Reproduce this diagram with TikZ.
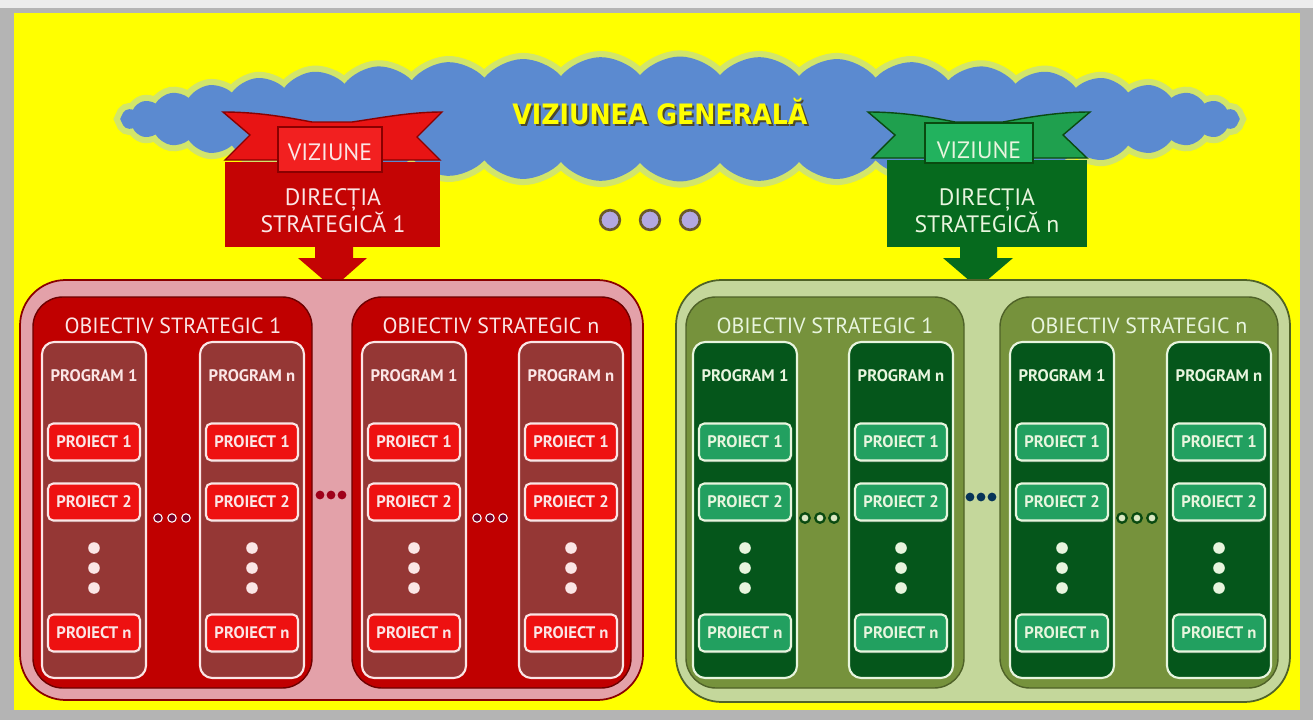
\documentclass[tikz,border=0pt]{standalone}
\usepackage{fontspec}
\setmainfont{PT Sans}
\newfontfamily\condfont{DejaVu Sans Condensed}
\usetikzlibrary{shapes,positioning,shadows}

\definecolor{bgyellow}{HTML}{FFFF00}
\definecolor{framegray}{HTML}{B4B4B4}
\definecolor{cloudblue}{HTML}{5B8AD0}
\definecolor{cloudglow}{HTML}{D2E56A}
\definecolor{redwing}{HTML}{E81414}
\definecolor{redtab}{HTML}{F22020}
\definecolor{redmain}{HTML}{C40404}
\definecolor{redline}{HTML}{8A0000}
\definecolor{redouter}{HTML}{E3A1A9}
\definecolor{redobj}{HTML}{C00000}
\definecolor{redcol}{HTML}{953735}
\definecolor{redproj}{HTML}{EE1111}
\definecolor{redtext}{HTML}{FBE6E6}
\definecolor{greenwing}{HTML}{1FA04E}
\definecolor{greentab}{HTML}{22B25E}
\definecolor{greenmain}{HTML}{066A1E}
\definecolor{greenline}{HTML}{0A4A10}
\definecolor{greenouter}{HTML}{C4D79B}
\definecolor{greenobj}{HTML}{76923C}
\definecolor{oliveline}{HTML}{4F6228}
\definecolor{greencol}{HTML}{05561B}
\definecolor{greenproj}{HTML}{22A060}
\definecolor{greentext}{HTML}{E8F5DE}
\definecolor{dotlilac}{HTML}{B3A9E2}
\definecolor{dotrim}{HTML}{6A5A2A}

\begin{document}
\begin{tikzpicture}[x=0.02cm,y=-0.02cm,
  objtitle/.style={font=\fontsize{12.5}{14}\selectfont, inner sep=0},
  progtitle/.style={font=\bfseries\fontsize{9.5}{11}\selectfont, inner sep=0},
  projbox/.style={rounded corners=3pt, line width=1.2pt, minimum width=1.84cm,
    minimum height=0.74cm, inner sep=0, font=\bfseries\fontsize{9.5}{11}\selectfont,
    drop shadow={opacity=0.35, shadow xshift=0.6pt, shadow yshift=-1pt}},
  bannertext/.style={font=\fontsize{13.5}{15.5}\selectfont, align=center, inner sep=0}]
\useasboundingbox (0,0) rectangle (1313,720);

% frame and background
\fill[framegray] (0,0) rectangle (1313,720);
\fill[gray!15] (0,0) rectangle (1313,8);
\fill[bgyellow] (14,13) rectangle (1300,710);

% cloud
\node[cloud, cloud puffs=44, cloud puff arc=100, aspect=9, inner sep=0,
  minimum width=22.4cm, minimum height=2.5cm, fill=cloudblue,
  preaction={draw=cloudglow, line width=7pt}] (cloud) at (680,119) {};
\node[font=\condfont\bfseries\fontsize{16}{18}\selectfont, text=black!60!olive]
  (vgshadow) at (662,114) {VIZIUNEA GENERALĂ};
\node[font=\condfont\bfseries\fontsize{16}{18}\selectfont, text=bgyellow]
  (vg) at (660,112) {VIZIUNEA GENERALĂ};

% red direction banner
\draw[redline, fill=redwing, line width=0.8pt] (223,112) .. controls (260,112) and (290,118) .. (312,122)
  -- (352,122) .. controls (380,118) and (410,112) .. (442,112) -- (417,137) -- (440,160)
  -- (225,160) -- (250,135) -- cycle;
\fill[redmain] (225,162) rectangle (440,247);
\fill[redmain] (315,246) -- (353,246) -- (353,258) -- (367,258) -- (333,288) -- (298,258) -- (315,258) -- cycle;
\draw[redline, fill=redtab, line width=0.6pt] (278,127) rectangle (382,172);
\node[bannertext, text=redtext] (viz1) at (330,152) {VIZIUNE};
\node[bannertext, text=redtext] (dir1) at (333,211) {DIRECȚIA\\STRATEGICĂ 1};

% green direction banner
\draw[greenline, fill=greenwing, line width=0.8pt] (868,112) .. controls (905,112) and (935,118) .. (955,122)
  -- (1003,122) .. controls (1025,118) and (1055,112) .. (1090,112) -- (1063,135) -- (1087,158)
  -- (872,158) -- (895,135) -- cycle;
\fill[greenmain] (887,160) rectangle (1087,247);
\fill[greenmain] (960,246) -- (997,246) -- (997,258) -- (1013,258) -- (978,288) -- (943,258) -- (960,258) -- cycle;
\draw[greenline, fill=greentab, line width=0.6pt] (925,123) rectangle (1033,163);
\node[bannertext, text=greentext] (vizn) at (979,150) {VIZIUNE};
\node[bannertext, text=greentext] (dirn) at (987,211) {DIRECȚIA\\STRATEGICĂ n};

% dots between directions
\foreach \dx in {610,650,690}
  \draw[dotrim, fill=dotlilac, line width=1.5pt] (\dx,220) circle (5.6pt);

% red container
\draw[redline, fill=redouter, line width=1pt, rounded corners=26pt] (20,280) rectangle (643,700);
\foreach \ox in {33,352}
  \draw[redline!80!black, fill=redobj, line width=0.8pt, rounded corners=17pt] (\ox,297) rectangle (\ox+279,688);
\node[objtitle, text=redtext] (ro1) at (173,326) {OBIECTIV STRATEGIC 1};
\node[objtitle, text=redtext] (ron) at (491,326) {OBIECTIV STRATEGIC n};

% green container
\draw[oliveline, fill=greenouter, line width=1pt, rounded corners=26pt] (676,280) rectangle (1290,702);
\foreach \ox in {686,1000}
  \draw[oliveline, fill=greenobj, line width=0.8pt, rounded corners=17pt] (\ox,297) rectangle (\ox+278,688);
\node[objtitle, text=greentext] (go1) at (825,326) {OBIECTIV STRATEGIC 1};
\node[objtitle, text=greentext] (gon) at (1139,326) {OBIECTIV STRATEGIC n};

% program columns with projects
\foreach \cx/\pn/\side in {94/1/r,252/n/r,414/1/r,571/n/r,745/1/g,901/n/g,1062/1/g,1219/n/g} {
  \if r\side
    \def\colfill{redcol}\def\colline{redtext}\def\pfill{redproj}\def\ptext{redtext}
  \else
    \def\colfill{greencol}\def\colline{greentext}\def\pfill{greenproj}\def\ptext{greentext}
  \fi
  \draw[\colline, fill=\colfill, line width=1.2pt, rounded corners=7pt] (\cx-52,342) rectangle (\cx+52,678);
  \node[progtitle, text=\ptext] (prog-\side-\cx) at (\cx,376) {PROGRAM \pn};
  \node[projbox, draw=\colline, fill=\pfill, text=\ptext] (p1-\side-\cx) at (\cx,442) {PROIECT 1};
  \node[projbox, draw=\colline, fill=\pfill, text=\ptext] (p2-\side-\cx) at (\cx,502) {PROIECT 2};
  \node[projbox, draw=\colline, fill=\pfill, text=\ptext] (pn-\side-\cx) at (\cx,633) {PROIECT n};
  \foreach \dy in {548,568,588}
    \fill[\colline] (\cx,\dy) circle (3.3pt);
}

% dots between programs and objectives
\foreach \dx in {158,172,186,477,490,503}
  \draw[white, fill=black!40!purple, line width=0.6pt] (\dx,518) circle (2.4pt);
\foreach \dx in {320,331,342}
  \fill[redline!60!purple] (\dx,495) circle (2.5pt);
\foreach \dx in {805,820,834,1122,1137,1152}
  \draw[greenline, fill=greenouter!60!white, line width=1.3pt] (\dx,518) circle (2.7pt);
\foreach \dx in {970,981,992}
  \fill[greenline!70!blue] (\dx,497) circle (2.5pt);
\end{tikzpicture}
\end{document}
